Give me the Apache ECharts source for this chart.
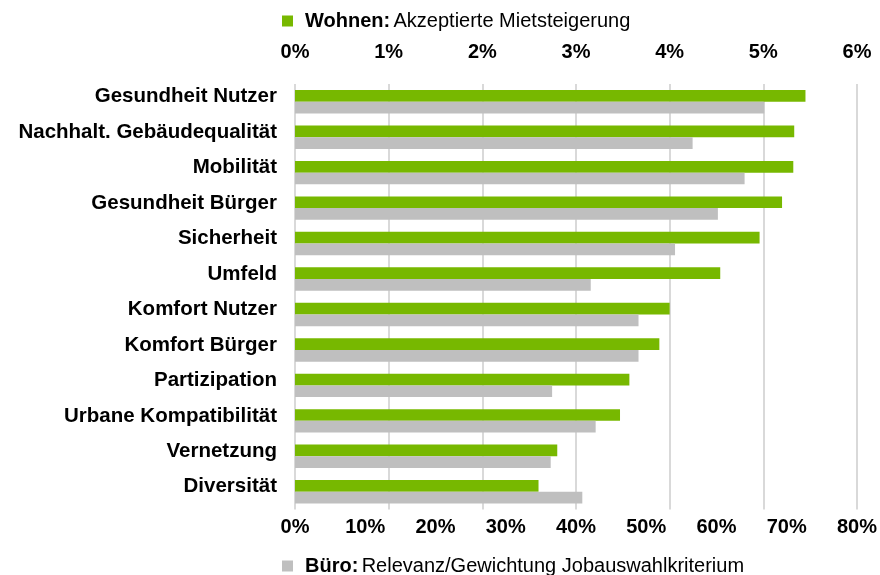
<!DOCTYPE html>
<html><head><meta charset="utf-8">
<script src="https://cdn.jsdelivr.net/npm/echarts@6/dist/echarts.min.js"></script>
<style>html,body{margin:0;padding:0;background:#fff}#c{width:880px;height:575px}</style>
</head><body><div id="c"></div>
<script>
const categories = ["Gesundheit Nutzer","Nachhalt. Gebäudequalität","Mobilität","Gesundheit Bürger","Sicherheit","Umfeld","Komfort Nutzer","Komfort Bürger","Partizipation","Urbane Kompatibilität","Vernetzung","Diversität"];
const wohnen = [5.45, 5.33, 5.32, 5.20, 4.96, 4.54, 4.00, 3.89, 3.57, 3.47, 2.80, 2.60];
const buero = [66.8, 56.6, 64.0, 60.2, 54.1, 42.1, 48.9, 48.9, 36.6, 42.8, 36.4, 40.9];
const topTicks = {min: 0, max: 6, interval: 1};
const bottomTicks = {min: 0, max: 80, interval: 10};
const FONT = '"Liberation Sans", Arial, sans-serif';
const FS = 20;

const legendRich = {
  b: {fontWeight: 'bold', fontSize: FS, fontFamily: FONT, color: '#000', lineHeight: 22},
  r: {fontSize: FS, fontFamily: FONT, color: '#000', lineHeight: 22}
};

const chart = echarts.init(document.getElementById('c'), null, {renderer: 'canvas'});
chart.setOption({
  animation: false,
  textStyle: {fontFamily: FONT},
  legend: [
    {
      data: ['Wohnen'], left: 282, top: 11, padding: 0, itemWidth: 11, itemHeight: 11, icon: 'rect',
      formatter: () => '{b|Wohnen:} {r|Akzeptierte Mietsteigerung}',
      textStyle: {padding: [0, 0, 0, 7], rich: legendRich}
    },
    {
      data: ['Büro'], left: 282, top: 556, padding: 0, itemWidth: 11, itemHeight: 11, icon: 'rect',
      formatter: () => '{b|Büro:} {r|Relevanz/Gewichtung Jobauswahlkriterium}',
      textStyle: {padding: [0, 0, 0, 7], rich: legendRich}
    }
  ],
  grid: {left: 295, right: 22, top: 84, bottom: 65.5, containLabel: false},
  xAxis: [
    {
      type: 'value', position: 'top', min: topTicks.min, max: topTicks.max, interval: topTicks.interval,
      axisLine: {show: false}, axisTick: {show: false},
      axisLabel: {formatter: v => v + '%', fontWeight: 'bold', fontSize: FS, color: '#000', margin: 22, fontFamily: FONT},
      splitLine: {show: true, lineStyle: {color: '#d9d9d9', width: 2}}
    },
    {
      type: 'value', position: 'bottom', min: bottomTicks.min, max: bottomTicks.max, interval: bottomTicks.interval,
      axisLine: {show: false}, axisTick: {show: false},
      axisLabel: {formatter: v => v + '%', fontWeight: 'bold', fontSize: FS, color: '#000', margin: 8, fontFamily: FONT},
      splitLine: {show: false}
    }
  ],
  yAxis: {
    type: 'category', data: categories, inverse: true,
    axisLine: {show: false}, axisTick: {show: false},
    axisLabel: {
      margin: 18,
      formatter: v => '{a|' + v + '}',
      rich: {a: {fontWeight: 'bold', fontSize: 20.5, color: '#000', fontFamily: FONT, padding: [0, 0, 10, 0]}}
    }
  },
  series: [
    {name: 'Wohnen', type: 'bar', xAxisIndex: 0, data: wohnen, barGap: '0%', barCategoryGap: '34%',
     itemStyle: {color: '#77b800'}},
    {name: 'Büro', type: 'bar', xAxisIndex: 1, data: buero, barGap: '0%', barCategoryGap: '34%',
     itemStyle: {color: '#bfbfbf'}}
  ]
});
</script></body></html>
